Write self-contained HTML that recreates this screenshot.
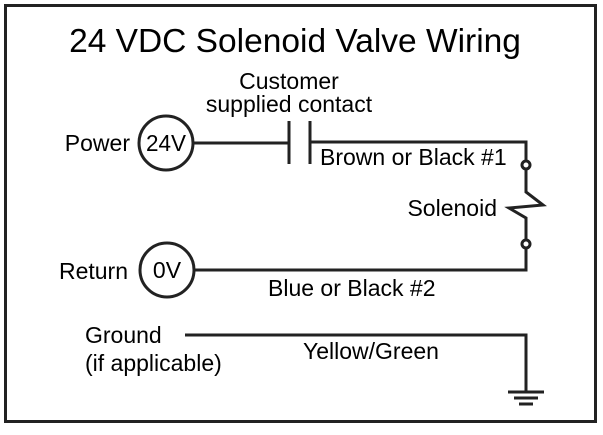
<!DOCTYPE html>
<html><head><style>html,body{margin:0;padding:0;background:#fff}</style></head>
<body>
<svg width="603" height="430" viewBox="0 0 603 430" xmlns="http://www.w3.org/2000/svg" font-family="Liberation Sans, sans-serif" fill="#000">
<rect x="5.5" y="5.5" width="590" height="416" fill="none" stroke="#222" stroke-width="3"/>
<text x="295" y="52" font-size="33.5" text-anchor="middle">24 VDC Solenoid Valve Wiring</text>
<text x="289" y="89" font-size="23" text-anchor="middle">Customer</text>
<text x="289" y="112" font-size="23" text-anchor="middle">supplied contact</text>
<g stroke="#222" stroke-width="3" fill="none">
<circle cx="166" cy="143" r="27"/>
<line x1="193" y1="143" x2="289" y2="143"/>
<line x1="289" y1="121" x2="289" y2="164"/>
<line x1="310" y1="121" x2="310" y2="164"/>
<polyline points="310,142 526,142 526,161"/>
<circle cx="526" cy="165" r="4"/>
<polyline points="526,169 526,192 543,205 509,208 526,218 526,240"/>
<circle cx="526" cy="244" r="4"/>
<polyline points="526,248 526,270 193,270"/>
<circle cx="167" cy="270" r="27"/>
<polyline points="185,335 526,335 526,392"/>
<line x1="508" y1="392" x2="544" y2="392"/>
<line x1="514" y1="398" x2="538" y2="398"/>
<line x1="519" y1="404" x2="533" y2="404"/>
</g>
<text x="166" y="151" font-size="23" text-anchor="middle" textLength="40" lengthAdjust="spacingAndGlyphs">24V</text>
<text x="167" y="278" font-size="23" text-anchor="middle">0V</text>
<text x="130" y="151" font-size="23" text-anchor="end">Power</text>
<text x="128" y="279" font-size="23" text-anchor="end">Return</text>
<text x="320" y="165" font-size="23">Brown or Black #1</text>
<text x="497" y="216" font-size="23" text-anchor="end">Solenoid</text>
<text x="268" y="296" font-size="23">Blue or Black #2</text>
<text x="85" y="343" font-size="23">Ground</text>
<text x="85" y="371" font-size="23">(if applicable)</text>
<text x="303" y="359" font-size="23">Yellow/Green</text>
</svg>
</body></html>
